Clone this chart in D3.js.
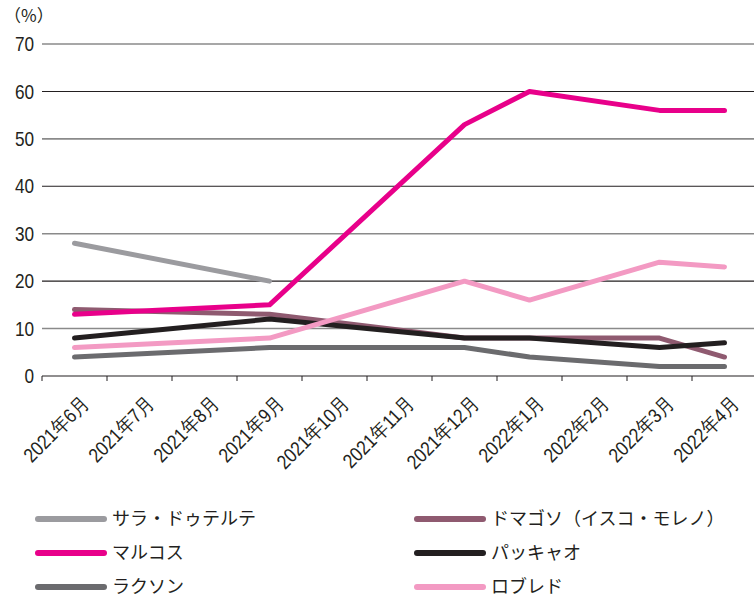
<!DOCTYPE html>
<html>
<head>
<meta charset="utf-8">
<script src="https://cdn.jsdelivr.net/npm/d3@7"></script>
<style>
  body { margin: 0; background: #fff; }
  svg text { font-family: "Liberation Sans", Arial, sans-serif; fill: #231f20; }
  .legend text { font-family: "Noto Sans CJK JP", sans-serif; }
</style>
</head>
<body>
<div id="chart"></div>
<script>
const months = ["2021年6月", "2021年7月", "2021年8月", "2021年9月", "2021年10月", "2021年11月",
    "2021年12月", "2022年1月", "2022年2月", "2022年3月", "2022年4月"];
const yTicks = [0, 10, 20, 30, 40, 50, 60, 70];

// survey values per month (null = no survey that month)
const sara     = [28, null, null, 20, null, null, null, null, null, null, null];
const domagoso = [14, null, null, 13, null, null, 8, 8, null, 8, 4];
const lacson   = [4, null, null, 6, null, null, 6, 4, null, 2, 2];
const pacquiao = [8, null, null, 12, null, null, 8, 8, null, 6, 7];
const robredo  = [6, null, null, 8, null, null, 20, 16, null, 24, 23];
const marcos   = [13, null, null, 15, null, null, 53, 60, null, 56, 56];

const seriesNames = ["サラ・ドゥテルテ", "ドマゴソ（イスコ・モレノ）", "マルコス", "パッキャオ", "ラクソン", "ロブレド"];
const seriesColors = ["#9b9b9f", "#8f5a70", "#e8008a", "#231f20", "#6b6b6e", "#f39ac3"];
const seriesValues = [sara, domagoso, marcos, pacquiao, lacson, robredo];
// drawing order (bottom to top)
const drawOrder = [0, 1, 4, 3, 5, 2];

const width = 754, height = 598;
const margin = {top: 44, left: 42, bottom: 222};
const narrow = 0.86; // condensed look of the original numerals

const svg = d3.select("#chart").append("svg")
    .attr("width", width)
    .attr("height", height);

const x = d3.scaleBand()
    .domain(months)
    .range([margin.left, margin.left + 65 * months.length]);

const y = d3.scaleLinear()
    .domain([0, 70])
    .range([376, margin.top]);

// grid lines (alternate grey / black)
svg.append("g")
    .selectAll("line")
    .data(yTicks.filter(d => d > 0))
    .enter().append("line")
    .attr("x1", margin.left)
    .attr("x2", width)
    .attr("y1", d => y(d))
    .attr("y2", d => y(d))
    .attr("stroke", d => (d / 10) % 2 === 1 ? "#8a8a8a" : "#231f20")
    .attr("stroke-width", d => (d / 10) % 2 === 1 ? 1.6 : 1.1);

// y axis labels
svg.append("g")
    .selectAll("text")
    .data(yTicks)
    .enter().append("text")
    .attr("transform", d => "translate(34," + y(d) + ") scale(" + narrow + ",1)")
    .attr("dy", "0.36em")
    .attr("text-anchor", "end")
    .attr("font-size", 20)
    .text(d => d);

svg.append("text")
    .attr("x", 4)
    .attr("y", 22)
    .attr("font-size", 17)
    .text("（%）")
    .style("font-family", "'Noto Sans CJK JP', sans-serif");

// x axis
const xAxis = svg.append("g")
    .attr("transform", "translate(0,376)");
xAxis.append("line")
    .attr("x1", margin.left)
    .attr("x2", width)
    .attr("stroke", "#231f20")
    .attr("stroke-width", 1.2);
xAxis.selectAll(".tick")
    .data(months)
    .enter().append("line")
    .attr("x1", d => x(d))
    .attr("x2", d => x(d))
    .attr("y1", 0)
    .attr("y2", 5)
    .attr("stroke", "#231f20");
xAxis.selectAll("text")
    .data(months)
    .enter().append("text")
    .attr("transform", d => "translate(" + (x(d) + x.bandwidth() / 2 + 6) + ",19) rotate(-45) scale(" + narrow + ",1)")
    .attr("text-anchor", "end")
    .attr("dy", "0.7em")
    .attr("font-size", 20)
    .text(d => d);

// lines
const line = d3.line()
    .x(d => x(d.m) + x.bandwidth() / 2)
    .y(d => y(d.v));

svg.append("g")
    .selectAll("path")
    .data(drawOrder)
    .enter().append("path")
    .attr("d", i => line(seriesValues[i]
        .map((v, j) => ({m: months[j], v: v}))
        .filter(p => p.v !== null)))
    .attr("fill", "none")
    .attr("stroke", i => seriesColors[i])
    .attr("stroke-width", 5)
    .attr("stroke-linejoin", "round")
    .attr("stroke-linecap", "round");

// legend
const legendPos = [[36, 519], [415, 519], [36, 553], [415, 553], [36, 587], [415, 587]];
const legend = svg.append("g").attr("class", "legend")
    .selectAll("g")
    .data(seriesNames)
    .enter().append("g")
    .attr("transform", (d, i) => "translate(" + legendPos[i][0] + "," + legendPos[i][1] + ")");
legend.append("line")
    .attr("x1", 2)
    .attr("x2", 68)
    .attr("stroke", (d, i) => seriesColors[i])
    .attr("stroke-width", 6)
    .attr("stroke-linecap", "round");
legend.append("text")
    .attr("x", 76)
    .attr("dy", "0.36em")
    .attr("font-size", 18)
    .text(d => d);
</script>
</body>
</html>
